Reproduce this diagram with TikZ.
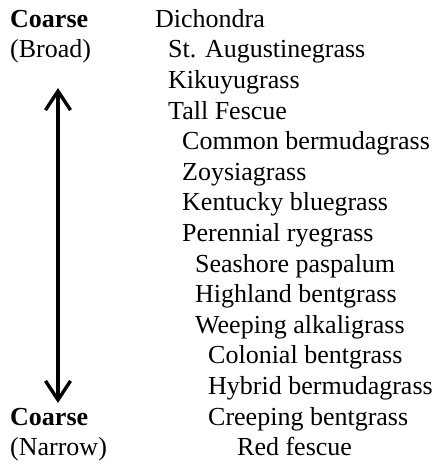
\documentclass[tikz,border=0pt]{standalone}
\usepackage{fontspec}
\setmainfont{Liberation Serif}
\usetikzlibrary{arrows.meta}
\newcommand{\rowgap}{30.6}
\newcommand{\rowtop}{436.7}
\newcommand{\rowy}[1]{\rowtop-\rowgap*(#1)}

\begin{document}
\begin{tikzpicture}[
  x=1pt,y=1pt,
  >={Straight Barb[length=19pt,width=25pt]},
  grass/.style={anchor=base west, inner sep=0pt, font=\fontsize{26}{30}\selectfont},
  endlabel/.style={grass, font=\fontsize{26}{30}\selectfont\bfseries},
  scalearrow/.style={<->, line width=3.4pt}
]
\path[use as bounding box] (0,0) rectangle (440,464);

% Grass list, coarse to fine
\foreach \i/\xx/\name/\txt in {
  0/155/dich/Dichondra,
  1/168/staug/St. Augustinegrass,
  2/168/kiku/Kikuyugrass,
  3/168/tall/Tall Fescue,
  4/182/cberm/Common bermudagrass,
  5/182/zoys/Zoysiagrass,
  6/182/kent/Kentucky bluegrass,
  7/182/peren/Perennial ryegrass,
  8/195/sea/Seashore paspalum,
  9/195/high/Highland bentgrass,
  10/195/weep/Weeping alkaligrass,
  11/208/colo/Colonial bentgrass,
  12/208/hberm/Hybrid bermudagrass,
  13/208/creep/Creeping bentgrass,
  14/237/red/Red fescue
} {
  \node[grass] (\name) at (\xx,{\rowy{\i}}) {\txt};
}

% Scale ends
\node[endlabel] (coarsetop) at (10,{\rowy{0}}) {Coarse};
\node[grass] (broad) at (10,{\rowy{1}}) {(Broad)};
\node[endlabel] (coarsebot) at (10,{\rowy{13}}) {Coarse};
\node[grass] (narrow) at (10,{\rowy{14}}) {(Narrow)};

% Double arrow between the two ends
\coordinate (atop) at (58,376);
\coordinate (abot) at (58,61);
\draw[scalearrow] (abot) -- (atop);

\end{tikzpicture}
\end{document}
